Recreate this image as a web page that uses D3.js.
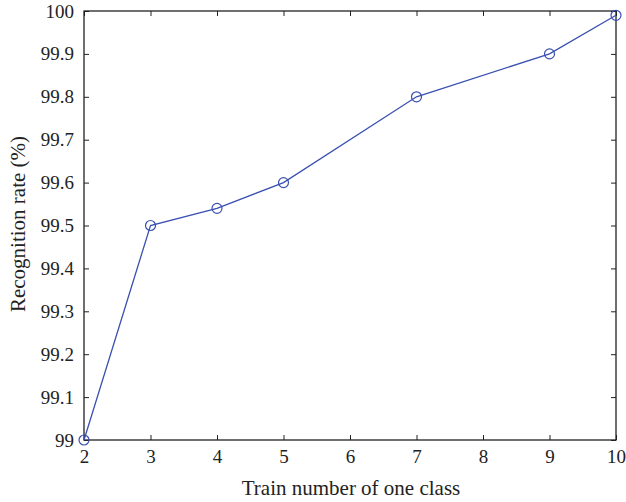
<!DOCTYPE html>
<html><head><meta charset="utf-8">
<script src="https://cdn.jsdelivr.net/npm/d3@7"></script>
<style>body{margin:0;background:#fff}svg{display:block}</style>
</head><body>
<script>
const trainNumbers = [2, 3, 4, 5, 7, 9, 10];
const recognitionRates = [99.0, 99.5, 99.54, 99.6, 99.8, 99.9, 99.99];
const xTicks = [2, 3, 4, 5, 6, 7, 8, 9, 10];
const yTicks = [99, 99.1, 99.2, 99.3, 99.4, 99.5, 99.6, 99.7, 99.8, 99.9, 100];

const W = 626, H = 502;
const m = {left: 84, right: 10, top: 11, bottom: 62};
const svg = d3.select("body").append("svg").attr("width", W).attr("height", H);
const x = d3.scaleLinear().domain([2, 10]).range([m.left, W - m.right]);
const y = d3.scaleLinear().domain([99, 100]).range([H - m.bottom, m.top]);
const font = "'Liberation Serif', 'DejaVu Serif', serif";
const col = "#3a50b0";

const axisStyle = g => {
  g.select(".domain").remove();
  g.selectAll("line").attr("stroke", "#222").attr("stroke-width", 1);
  g.selectAll("text").attr("font-family", font).attr("font-size", 19).attr("fill", "#222");
};

svg.append("g").attr("transform", `translate(0,${y(99)})`)
  .call(d3.axisBottom(x).tickValues(xTicks).tickFormat(d3.format("d")).tickSizeInner(-5).tickPadding(10))
  .call(axisStyle);
svg.append("g").attr("transform", `translate(0,${y(100)})`)
  .call(d3.axisTop(x).tickValues(xTicks).tickFormat("").tickSizeInner(-5))
  .call(axisStyle);
svg.append("g").attr("transform", `translate(${x(2)},0)`)
  .call(d3.axisLeft(y).tickValues(yTicks).tickFormat(d => d3.format("")(+d.toFixed(1))).tickSizeInner(-5).tickPadding(10))
  .call(axisStyle);
svg.append("g").attr("transform", `translate(${x(10)},0)`)
  .call(d3.axisRight(y).tickValues(yTicks).tickFormat("").tickSizeInner(-5))
  .call(axisStyle);

svg.append("rect").attr("x", x(2)).attr("y", y(100)).attr("width", x(10) - x(2)).attr("height", y(99) - y(100))
  .attr("fill", "none").attr("stroke", "#222").attr("stroke-width", 1.3);

const pts = trainNumbers.map((d, i) => [d, recognitionRates[i]]);
svg.append("path").datum(pts)
  .attr("d", d3.line().x(d => x(d[0])).y(d => y(d[1])))
  .attr("fill", "none").attr("stroke", col).attr("stroke-width", 1.3);
svg.selectAll("circle.pt").data(pts).enter().append("circle")
  .attr("cx", d => x(d[0])).attr("cy", d => y(d[1])).attr("r", 5)
  .attr("fill", "none").attr("stroke", col).attr("stroke-width", 1.2);

svg.append("text").attr("x", 351).attr("y", 495).attr("text-anchor", "middle")
  .attr("font-family", font).attr("font-size", 21).attr("fill", "#222").text("Train number of one class");
svg.append("text").attr("transform", `translate(25,224) rotate(-90)`).attr("text-anchor", "middle")
  .attr("font-family", font).attr("font-size", 21).attr("fill", "#222").text("Recognition rate (%)");
</script>
</body></html>
